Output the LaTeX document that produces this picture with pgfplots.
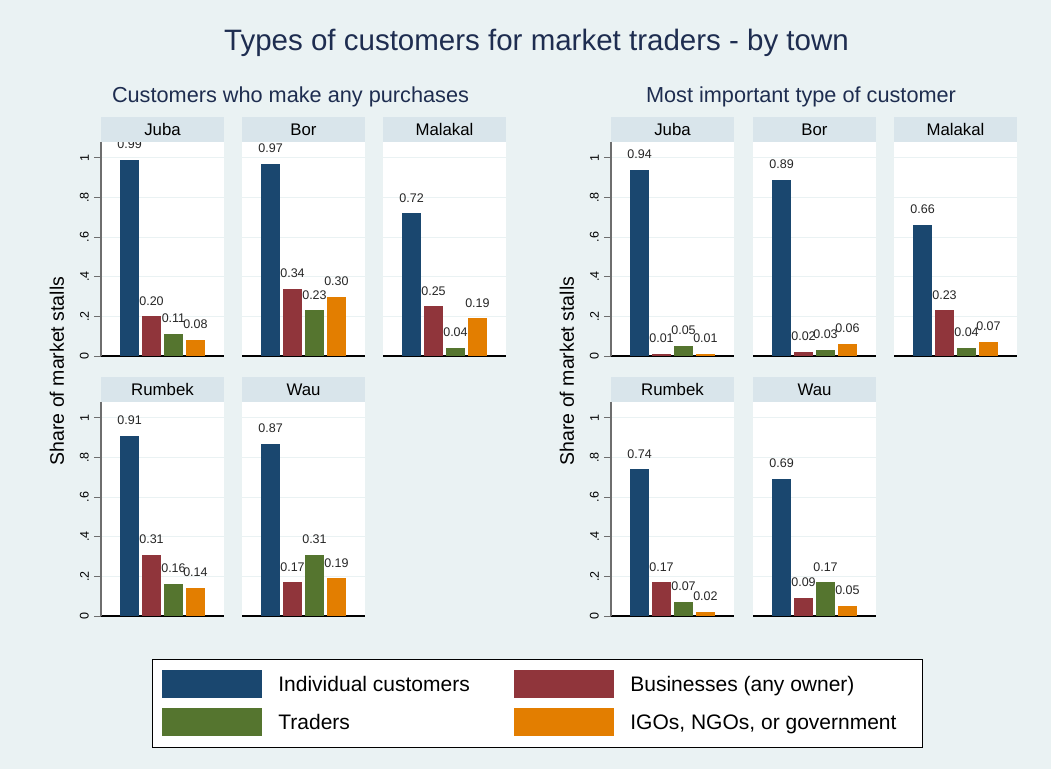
\documentclass[border=0pt]{standalone}
\usepackage{pgfplots}
\pgfplotsset{compat=1.18}
\usepackage{fontspec}
\setmainfont{Liberation Sans}
\definecolor{bgcol}{RGB}{234,242,243}
\definecolor{stripcol}{RGB}{217,229,235}
\definecolor{gridcol}{RGB}{234,242,243}
\definecolor{titlecol}{RGB}{30,45,80}
\definecolor{cA}{RGB}{26,71,111}
\definecolor{cB}{RGB}{144,53,59}
\definecolor{cC}{RGB}{85,117,47}
\definecolor{cD}{RGB}{227,126,0}
\definecolor{axcol}{RGB}{110,110,110}

\pgfplotsset{
  panel/.style={
    scale only axis, width=123pt, height=214pt,
    anchor=south west,
    xmin=-0.3, xmax=5.3, ymin=0, ymax=1.08,
    ybar, bar width=19pt, bar shift=0pt,
    axis background/.style={fill=white},
    axis x line=bottom, axis y line=left,
    x axis line style={-, black, line width=1.2pt},
    y axis line style={-, axcol, line width=1.4pt},
    xtick=\empty,
    ytick={0,0.2,0.4,0.6,0.8,1},
    yticklabels={0,.2,.4,.6,.8,1},
    ymajorgrids, grid style={gridcol, line width=1.2pt},
    tick align=outside, major tick length=7pt,
    ytick style={axcol, line width=1pt},
    yticklabel style={rotate=90, anchor=south, inner sep=0pt, yshift=5pt, font=\fontsize{12.5}{14}\selectfont},
    nodes near coords,
    every node near coord/.append style={font=\fontsize{12.5}{14}\selectfont, anchor=south, inner sep=0pt, yshift=11pt, text=black!85},
    /pgf/number format/fixed, /pgf/number format/fixed zerofill,
    /pgf/number format/precision=2, /pgf/number format/assume math mode=true,
    every axis title shift=0pt,
    title style={at={(0.5,1)}, anchor=south, yshift=0pt, fill=stripcol, minimum width=123pt, minimum height=25pt, inner sep=0pt, text height=12pt, text depth=0pt, font=\fontsize{16.8}{18}\selectfont},
  },
  othercol/.style={y axis line style={draw=none}, yticklabels={}, ytick style={draw=none}},
  legimg/.style={legend image code/.code={\fill[##1] (0pt,-14pt) rectangle (100pt,14pt);}},
}

\begin{document}
\begin{tikzpicture}
\fill[bgcol] (0pt,0pt) rectangle (1051pt,-769pt);

\node[font=\fontsize{29.5}{32}\selectfont, text=titlecol, anchor=base] at (536.5pt,-50pt) {Types of customers for market traders - by town};
\node[font=\fontsize{21.7}{24}\selectfont, text=titlecol, anchor=base] at (290.5pt,-102pt) {Customers who make any purchases};
\node[font=\fontsize{21.7}{24}\selectfont, text=titlecol, anchor=base] at (801pt,-102pt) {Most important type of customer};
\node[font=\fontsize{19.5}{22}\selectfont, rotate=90] at (57pt,-371pt) {Share of market stalls};
\node[font=\fontsize{19.5}{22}\selectfont, rotate=90] at (567pt,-371pt) {Share of market stalls};

% ---------- Left group: any purchases ----------
\begin{axis}[panel, at={(101pt,-356pt)}, title={Juba}]
\addplot[fill=cA, draw=none] coordinates {(1,0.99)};
\addplot[fill=cB, draw=none] coordinates {(2,0.20)};
\addplot[fill=cC, draw=none] coordinates {(3,0.11)};
\addplot[fill=cD, draw=none] coordinates {(4,0.08)};
\end{axis}
\begin{axis}[panel, othercol, at={(242pt,-356pt)}, title={Bor}]
\addplot[fill=cA, draw=none] coordinates {(1,0.97)};
\addplot[fill=cB, draw=none] coordinates {(2,0.34)};
\addplot[fill=cC, draw=none] coordinates {(3,0.23)};
\addplot[fill=cD, draw=none] coordinates {(4,0.30)};
\end{axis}
\begin{axis}[panel, othercol, at={(383pt,-356pt)}, title={Malakal}]
\addplot[fill=cA, draw=none] coordinates {(1,0.72)};
\addplot[fill=cB, draw=none] coordinates {(2,0.25)};
\addplot[fill=cC, draw=none] coordinates {(3,0.04)};
\addplot[fill=cD, draw=none] coordinates {(4,0.19)};
\end{axis}
\begin{axis}[panel, at={(101pt,-616pt)}, title={Rumbek},
  legend columns=2, legend cell align=left,
  legend style={at={(axis description cs:0.4146,-0.2009)}, anchor=north west,
    draw=black, line width=0.8pt, fill=white, inner xsep=10pt, inner ysep=11pt,
    row sep=9.5pt, font=\fontsize{21}{24}\selectfont,
    nodes={inner sep=0pt, text height=15pt, text depth=0pt},
    /tikz/every odd column/.append style={column sep=16pt},
    /tikz/every even column/.append style={column sep=0pt}}]
\addplot[fill=cA, draw=none, legimg] coordinates {(1,0.91)};
\addlegendentry{\makebox[236pt][l]{Individual customers}}
\addplot[fill=cB, draw=none, legimg] coordinates {(2,0.31)};
\addlegendentry{\makebox[282pt][l]{Businesses (any owner)}}
\addplot[fill=cC, draw=none, legimg] coordinates {(3,0.16)};
\addlegendentry{\makebox[236pt][l]{Traders}}
\addplot[fill=cD, draw=none, legimg] coordinates {(4,0.14)};
\addlegendentry{\makebox[282pt][l]{IGOs, NGOs, or government}}
\end{axis}
\begin{axis}[panel, othercol, at={(242pt,-616pt)}, title={Wau}]
\addplot[fill=cA, draw=none] coordinates {(1,0.87)};
\addplot[fill=cB, draw=none] coordinates {(2,0.17)};
\addplot[fill=cC, draw=none] coordinates {(3,0.31)};
\addplot[fill=cD, draw=none] coordinates {(4,0.19)};
\end{axis}

% ---------- Right group: most important ----------
\begin{axis}[panel, at={(611pt,-356pt)}, title={Juba}]
\addplot[fill=cA, draw=none] coordinates {(1,0.94)};
\addplot[fill=cB, draw=none] coordinates {(2,0.01)};
\addplot[fill=cC, draw=none] coordinates {(3,0.05)};
\addplot[fill=cD, draw=none] coordinates {(4,0.01)};
\end{axis}
\begin{axis}[panel, othercol, at={(753pt,-356pt)}, title={Bor}]
\addplot[fill=cA, draw=none] coordinates {(1,0.89)};
\addplot[fill=cB, draw=none] coordinates {(2,0.02)};
\addplot[fill=cC, draw=none] coordinates {(3,0.03)};
\addplot[fill=cD, draw=none] coordinates {(4,0.06)};
\end{axis}
\begin{axis}[panel, othercol, at={(894pt,-356pt)}, title={Malakal}]
\addplot[fill=cA, draw=none] coordinates {(1,0.66)};
\addplot[fill=cB, draw=none] coordinates {(2,0.23)};
\addplot[fill=cC, draw=none] coordinates {(3,0.04)};
\addplot[fill=cD, draw=none] coordinates {(4,0.07)};
\end{axis}
\begin{axis}[panel, at={(611pt,-616pt)}, title={Rumbek}]
\addplot[fill=cA, draw=none] coordinates {(1,0.74)};
\addplot[fill=cB, draw=none] coordinates {(2,0.17)};
\addplot[fill=cC, draw=none] coordinates {(3,0.07)};
\addplot[fill=cD, draw=none] coordinates {(4,0.02)};
\end{axis}
\begin{axis}[panel, othercol, at={(753pt,-616pt)}, title={Wau}]
\addplot[fill=cA, draw=none] coordinates {(1,0.69)};
\addplot[fill=cB, draw=none] coordinates {(2,0.09)};
\addplot[fill=cC, draw=none] coordinates {(3,0.17)};
\addplot[fill=cD, draw=none] coordinates {(4,0.05)};
\end{axis}
\end{tikzpicture}
\end{document}
